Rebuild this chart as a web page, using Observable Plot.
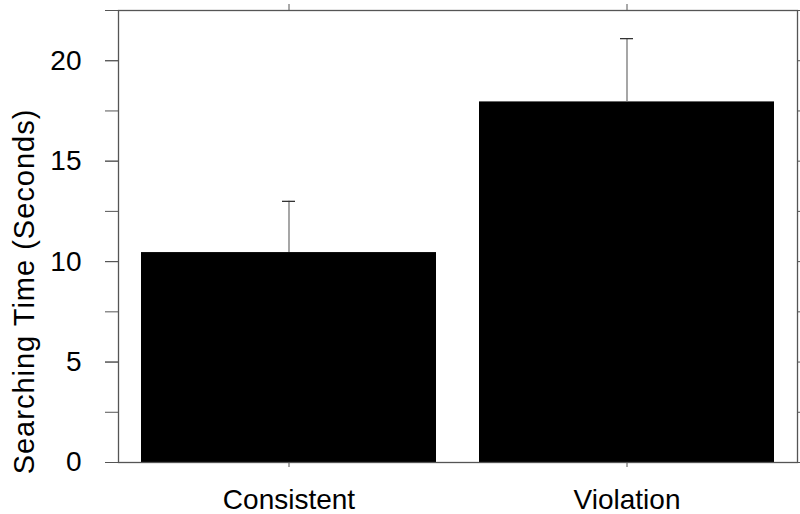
<!DOCTYPE html>
<html>
<head>
<meta charset="utf-8">
<script src="https://cdn.jsdelivr.net/npm/d3@7"></script>
<script src="https://cdn.jsdelivr.net/npm/@observablehq/plot@0.6"></script>
<style>
  html, body { margin: 0; padding: 0; background: #fff; }
  #chart svg { display: block; }
</style>
</head>
<body>
<div id="chart"></div>
<script>
const categories = ["Consistent", "Violation"];
const means = [10.45, 17.95];
const errors = [2.55, 3.15];
const majorTicks = [0, 5, 10, 15, 20];
const minorTicks = [0, 2.5, 5, 7.5, 10, 12.5, 15, 17.5, 20, 22.5];
const yLabel = "Searching Time (Seconds)";

const data = categories.map((c, i) => ({cat: c, mean: means[i], upper: means[i] + errors[i]}));
const axisColor = "#555";

const chart = Plot.plot({
  width: 800,
  height: 514,
  marginTop: 10,
  marginBottom: 52,
  marginLeft: 118,
  marginRight: 3,
  style: {fontFamily: "'Liberation Sans', Arial, sans-serif", fontSize: "28px", color: "#000", background: "#fff"},
  x: {domain: categories, paddingInner: 0.128, paddingOuter: 0.067},
  y: {domain: [0, 22.5]},
  marks: [
    Plot.barY(data, {x: "cat", y: "mean", fill: "#000"}),
    Plot.ruleX(data, {x: "cat", y1: "mean", y2: "upper", stroke: "#777", strokeWidth: 1.3}),
    Plot.tickY(data, {x: "cat", y: "upper", stroke: "#333", strokeWidth: 1.3, insetLeft: 141, insetRight: 141}),
    Plot.frame({stroke: axisColor, strokeWidth: 1.3}),
    Plot.axisY(minorTicks, {anchor: "left", tickSize: 13, tickFormat: () => "", stroke: axisColor, label: null}),
    Plot.axisY(majorTicks, {anchor: "left", tickSize: 13, tickPadding: 24, stroke: axisColor, fontSize: 28, fill: "#000", label: null}),
    Plot.axisY(minorTicks, {anchor: "right", tickSize: 6, tickFormat: () => "", stroke: axisColor, label: null}),
    Plot.axisX({anchor: "top", tickSize: 7, tickFormat: () => "", stroke: axisColor, label: null}),
    Plot.axisX({anchor: "bottom", tickSize: 5, tickPadding: 22, stroke: axisColor, fontSize: 28, fill: "#000", label: null}),
    Plot.text([yLabel], {frameAnchor: "left", rotate: -90, dx: -94, dy: 55, fontSize: 29, fill: "#000", textAnchor: "middle", style: {letterSpacing: "1px"}})
  ]
});
chart.querySelectorAll("text").forEach(t => { if (t.textContent === yLabel) t.style.letterSpacing = "1px"; });
document.getElementById("chart").appendChild(chart);
</script>
</body>
</html>
